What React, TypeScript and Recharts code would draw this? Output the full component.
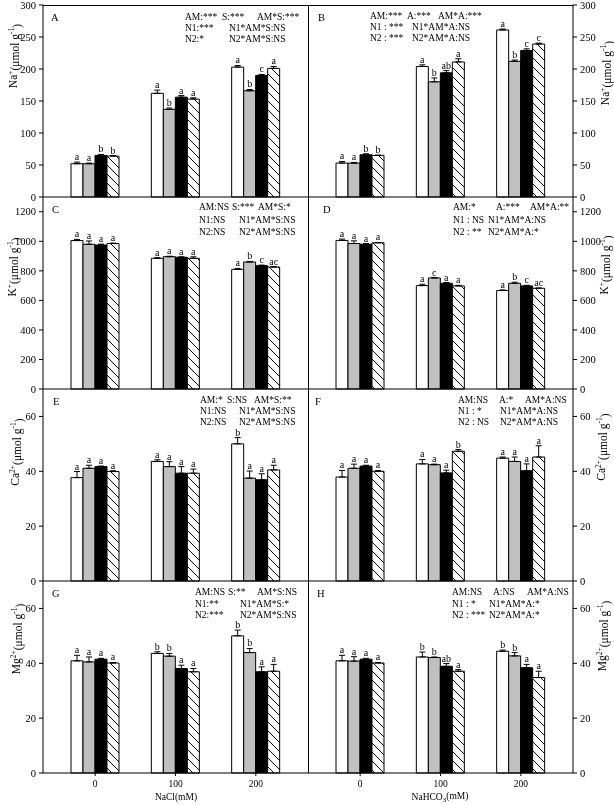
import React from "react";
import { BarChart, Bar, XAxis, YAxis, ErrorBar, LabelList } from "recharts";

const doses = ["0", "100", "200"];
const fills = ["#ffffff", "#c0c0c0", "#000000", "hatch"];

// one row per dose (0, 100, 200), one column per treatment
const naNaclMean = [[52, 52, 65, 64], [162, 137, 156, 153], [203, 166, 190, 201]];
const naNaclErr = [[2.5, 1, 1.5, 0.5], [5, 2, 2.5, 2], [2.5, 2, 1.5, 3]];
const naNaclSig = [["a", "a", "b", "b"], ["a", "b", "a", "a"], ["a", "b", "c", "a"]];

const naBicMean = [[53, 53, 66, 65], [204, 180, 194, 211], [261, 212, 229, 239]];
const naBicErr = [[2.5, 1, 1.5, 0.5], [2.5, 6, 3.5, 5], [1.5, 2, 2.5, 1.5]];
const naBicSig = [["a", "a", "b", "b"], ["a", "b", "ab", "a"], ["a", "b", "c", "c"]];

const kNaclMean = [[1005, 980, 975, 985], [885, 896, 892, 885], [810, 860, 835, 826]];
const kNaclErr = [[8, 22, 6, 3], [4, 3, 3, 10], [6, 4, 4, 2]];
const kNaclSig = [["a", "a", "a", "a"], ["a", "a", "a", "a"], ["a", "b", "c", "ac"]];

const kBicMean = [[1006, 985, 980, 990], [700, 752, 716, 698], [667, 716, 698, 682]];
const kBicErr = [[9, 18, 5, 2], [9, 2, 5, 4], [4, 7, 4, 2]];
const kBicSig = [["a", "a", "a", "a"], ["a", "c", "a", "a"], ["a", "b", "c", "ac"]];

const caNaclMean = [[37.7, 41.1, 41.7, 39.9], [43.6, 41.7, 39.3, 39.3], [50, 37.5, 36.9, 40.5]];
const caNaclErr = [[2.2, 1.1, 0.2, 0.3], [0.6, 1.8, 2.4, 1.5], [2.3, 2.6, 2.2, 1.7]];
const caNaclSig = [["a", "a", "a", "a"], ["a", "a", "a", "a"], ["b", "a", "a", "a"]];

const caBicMean = [[37.9, 41.1, 41.9, 40], [42.7, 42.4, 39.4, 47.3], [44.8, 43.6, 40.2, 45.2]];
const caBicErr = [[2.4, 1.5, 0.3, 0.3], [1.6, 0.2, 1, 0.6], [0.4, 1.6, 2.5, 4.1]];
const caBicSig = [["a", "a", "a", "a"], ["a", "a", "a", "b"], ["a", "a", "a", "a"]];

const mgNaclMean = [[40.9, 40.5, 41.5, 40.1], [43.6, 42.6, 38.1, 36.9], [50, 43.9, 36.9, 37.1]];
const mgNaclErr = [[2, 1.8, 0.3, 0.2], [0.6, 1, 1.2, 1.2], [2.1, 1.5, 1.8, 2.5]];
const mgNaclSig = [["a", "a", "a", "a"], ["b", "b", "a", "a"], ["b", "b", "a", "a"]];

const mgBicMean = [[40.9, 40.8, 41.5, 40.1], [42.3, 42.1, 38.9, 37.1], [44.4, 42.7, 38.4, 34.8]];
const mgBicErr = [[2, 1.6, 0.3, 0.2], [1.8, 0.2, 1, 0.6], [0.4, 1.2, 1.2, 2.3]];
const mgBicSig = [["a", "a", "a", "a"], ["b", "b", "ab", "a"], ["b", "b", "a", "a"]];

const naTicks = [0, 50, 100, 150, 200, 250, 300];
const kTicks = [0, 200, 400, 600, 800, 1000, 1200];
const mTicks = [0, 20, 40, 60];

const statsA = [["AM:***", "S:***", "AM*S:***"], ["N1:***", "N1*AM*S:NS"], ["N2:*", "N2*AM*S:NS"]];
const statsB = [["AM:***", "A:***", "AM*A:***"], ["N1 : ***", "N1*AM*A:NS"], ["N2 : ***", "N2*AM*A:NS"]];
const statsC = [["AM:NS", "S:***", "AM*S:*"], ["N1:NS", "N1*AM*S:NS"], ["N2:NS", "N2*AM*S:NS"]];
const statsD = [["AM:*", "A:***", "AM*A:**"], ["N1 : NS", "N1*AM*A:NS"], ["N2 : **", "N2*AM*A:*"]];
const statsE = [["AM:*", "S:NS", "AM*S:**"], ["N1:NS", "N1*AM*S:NS"], ["N2:NS", "N2*AM*S:NS"]];
const statsF = [["AM:NS", "A:*", "AM*A:NS"], ["N1 : *", "N1*AM*A:NS"], ["N2 : NS", "N2*AM*A:NS"]];
const statsG = [["AM:NS", "S:**", "AM*S:NS"], ["N1:**", "N1*AM*S:*"], ["N2:***", "N2*AM*S:NS"]];
const statsH = [["AM:NS", "A:NS", "AM*A:NS"], ["N1 : *", "N1*AM*A:*"], ["N2 : ***", "N2*AM*A:*"]];

const SERIF = "'Liberation Serif', 'Times New Roman', serif";
const ROWS = [5, 197, 389, 581];
const PLOT_H = 192;

type Panel = {
  id: string;
  row: number;
  side: "left" | "right";
  mean: number[][];
  err: number[][];
  sig: string[][];
  max: number;
  ticks: number[];
  ion: string;
  charge: string;
  stats: string[][];
  // layout of the overlay text
  letterX: number;
  labelX: number;
  labelY: number;
  sx: number[]; // col1, line1 col2, line1 col3, lines2-3 col2
  sy: number;
  step: number;
};

const panels: Panel[] = [
  { id: "A", row: 0, side: "left", mean: naNaclMean, err: naNaclErr, sig: naNaclSig, max: 300, ticks: naTicks, ion: "Na", charge: "+", stats: statsA, letterX: 51, labelX: 13, labelY: 56, sx: [185, 222, 257, 229], sy: 20, step: 11 },
  { id: "B", row: 0, side: "right", mean: naBicMean, err: naBicErr, sig: naBicSig, max: 300, ticks: naTicks, ion: "Na", charge: "+", stats: statsB, letterX: 318, labelX: 605, labelY: 73, sx: [370, 407, 438, 412], sy: 19, step: 11 },
  { id: "C", row: 1, side: "left", mean: kNaclMean, err: kNaclErr, sig: kNaclSig, max: 1300, ticks: kTicks, ion: "K", charge: "+", stats: statsC, letterX: 52, labelX: 12, labelY: 267, sx: [199, 232, 258, 239], sy: 210, step: 12.5 },
  { id: "D", row: 1, side: "right", mean: kBicMean, err: kBicErr, sig: kBicSig, max: 1300, ticks: kTicks, ion: "K", charge: "+", stats: statsD, letterX: 323, labelX: 604, labelY: 265, sx: [453, 496, 530, 488], sy: 210, step: 12.5 },
  { id: "E", row: 2, side: "left", mean: caNaclMean, err: caNaclErr, sig: caNaclSig, max: 70, ticks: mTicks, ion: "Ca", charge: "2+", stats: statsE, letterX: 53, labelX: 15, labelY: 452, sx: [200, 227, 254, 239], sy: 403, step: 11 },
  { id: "F", row: 2, side: "right", mean: caBicMean, err: caBicErr, sig: caBicSig, max: 70, ticks: mTicks, ion: "Ca", charge: "2+", stats: statsF, letterX: 315, labelX: 601, labelY: 447, sx: [458, 499, 525, 500], sy: 403, step: 11 },
  { id: "G", row: 3, side: "left", mean: mgNaclMean, err: mgNaclErr, sig: mgNaclSig, max: 70, ticks: mTicks, ion: "Mg", charge: "2+", stats: statsG, letterX: 52, labelX: 16, labelY: 639, sx: [195, 228, 257, 240], sy: 595, step: 11.5 },
  { id: "H", row: 3, side: "right", mean: mgBicMean, err: mgBicErr, sig: mgBicSig, max: 70, ticks: mTicks, ion: "Mg", charge: "2+", stats: statsH, letterX: 317, labelX: 602, labelY: 636, sx: [452, 493, 527, 489], sy: 595, step: 11.5 },
];

function letterLabel(p: Panel, j: number) {
  return (props: any) => {
    const vb = props.viewBox ?? props;
    const { x, y, width, height } = vb;
    const i = props.index;
    const v = p.mean[i][j];
    const errPx = v ? (p.err[i][j] * height) / v : 0;
    return (
      <text
        x={x + width / 2}
        y={y - errPx - 2}
        textAnchor="middle"
        fontSize={10}
        fontFamily={SERIF}
        fill="#000"
        stroke="none"
      >
        {p.sig[i][j]}
      </text>
    );
  };
}

function IonPanel({ p }: { p: Panel }) {
  const data = doses.map((d, i) => {
    const r: Record<string, any> = { dose: d };
    for (let j = 0; j < 4; j++) {
      r["t" + j] = p.mean[i][j];
      r["e" + j] = [0, p.err[i][j]];
    }
    return r;
  });
  const left = p.side === "left";
  const bottom = p.row === 3;
  const hatchId = "hatch" + p.id;
  return (
    <div style={{ position: "absolute", left: left ? 0 : 308, top: ROWS[p.row] - 10, willChange: "transform" }}>
      <BarChart
        width={left ? 308 : 306}
        height={10 + PLOT_H + 30}
        data={data}
        margin={{ top: 10, right: 0, bottom: 0, left: 0 }}
        barSize={12}
        barGap={0}
      >
        <defs>
          <pattern id={hatchId} patternUnits="userSpaceOnUse" width={9} height={9}>
            <rect width={9} height={9} fill="#fff" />
            <path d="M0,0 L9,9 M-1,8 L1,10 M8,-1 L10,1" stroke="#000" strokeWidth={1} />
          </pattern>
        </defs>
        <XAxis
          dataKey="dose"
          height={30}
          padding={{ left: 12, right: 12 }}
          tickSize={3}
          tickMargin={4}
          axisLine={{ stroke: "#000" }}
          tickLine={{ stroke: "#000" }}
          tick={bottom ? { fill: "#000", fontSize: 9.5, fontFamily: SERIF } : false}
        />
        <YAxis
          orientation={p.side}
          width={left ? 43 : 41}
          domain={[0, p.max]}
          ticks={p.ticks}
          interval={0}
          tickSize={4}
          tickMargin={3}
          axisLine={{ stroke: "#000" }}
          tickLine={{ stroke: "#000" }}
          tick={{ fill: "#000", fontSize: 10.5, fontFamily: SERIF }}
        />
        {fills.map((f, j) => (
          <Bar
            key={j}
            dataKey={"t" + j}
            fill={f === "hatch" ? `url(#${hatchId})` : f}
            stroke="#000"
            strokeWidth={1}
            isAnimationActive={false}
          >
            <ErrorBar dataKey={"e" + j} width={3} stroke="#000" strokeWidth={1} />
            <LabelList dataKey={"t" + j} content={letterLabel(p, j)} />
          </Bar>
        ))}
      </BarChart>
    </div>
  );
}

function Overlay() {
  return (
    <svg width={614} height={805} style={{ position: "absolute", left: 0, top: 0, pointerEvents: "none" }}>
      <line x1={43} x2={573} y1={5.5} y2={5.5} stroke="#000" strokeWidth={1} />
      <line x1={308.5} x2={308.5} y1={5} y2={773} stroke="#000" strokeWidth={1} />
      {panels.map((p) => (
        <g key={p.id} fontFamily={SERIF} fill="#000">
          <text x={p.letterX} y={ROWS[p.row] + 16} fontSize={10.5}>{p.id}</text>
          <text x={p.sx[0]} y={p.sy} fontSize={9.5}>{p.stats[0][0]}</text>
          <text x={p.sx[1]} y={p.sy} fontSize={9.5}>{p.stats[0][1]}</text>
          <text x={p.sx[2]} y={p.sy} fontSize={9.5}>{p.stats[0][2]}</text>
          {[1, 2].map((k) => (
            <g key={k}>
              <text x={p.sx[0]} y={p.sy + k * p.step} fontSize={9.5}>{p.stats[k][0]}</text>
              <text x={p.sx[3]} y={p.sy + k * p.step} fontSize={9.5}>{p.stats[k][1]}</text>
            </g>
          ))}
          <text
            transform={`translate(${p.labelX},${p.labelY}) rotate(-90)`}
            textAnchor="middle"
            dominantBaseline="central"
            fontSize={11.5}
          >
            {p.ion}
            <tspan dy="-0.45em" fontSize={7.5}>{p.charge}</tspan>
            <tspan dy="0.45em">(μmol g</tspan>
            <tspan dy="-0.45em" fontSize={7.5}>-1</tspan>
            <tspan dy="0.45em">)</tspan>
          </text>
        </g>
      ))}
      <text x={176} y={800} textAnchor="middle" fontSize={9.5} fontFamily={SERIF} fill="#000">NaCl(mM)</text>
      <text x={440} y={800} textAnchor="middle" fontSize={9.5} fontFamily={SERIF} fill="#000">
        NaHCO<tspan dy="0.3em" fontSize={7}>3</tspan><tspan dy="-0.3em">(mM)</tspan>
      </text>
    </svg>
  );
}

export default function App() {
  return (
    <div style={{ position: "absolute", left: 0, top: 0, width: 614, height: 805, background: "#fff", overflow: "hidden" }}>
      {panels.map((p) => (
        <IonPanel key={p.id} p={p} />
      ))}
      <Overlay />
    </div>
  );
}
